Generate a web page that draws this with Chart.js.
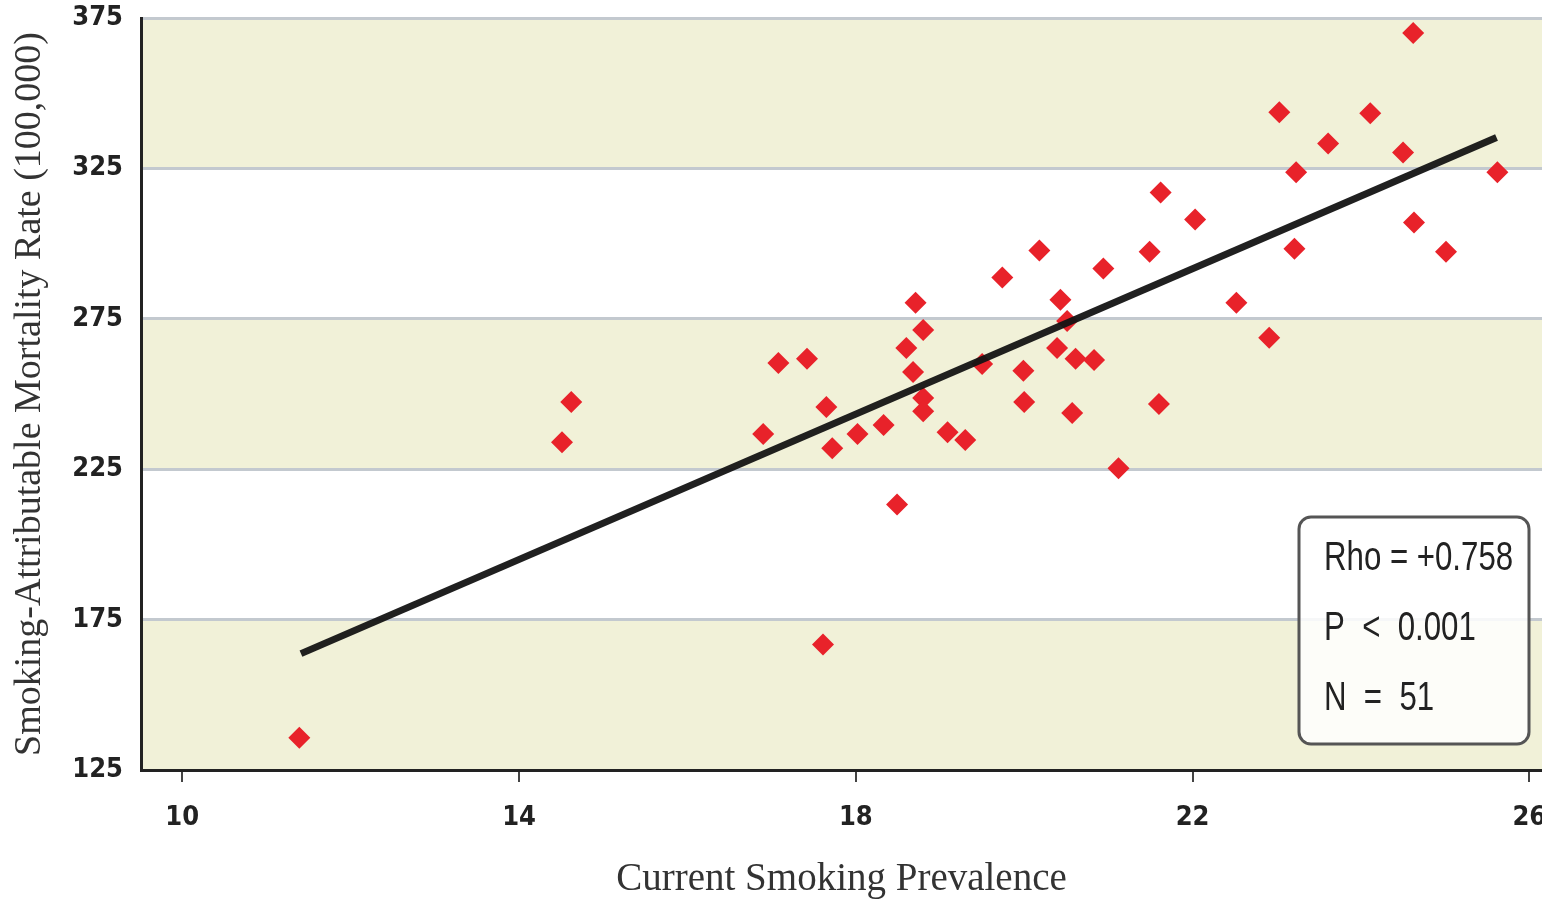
<!DOCTYPE html>
<html>
<head>
<meta charset="utf-8">
<script src="https://cdn.jsdelivr.net/npm/chart.js@4"></script>
<style>
  html, body { margin: 0; padding: 0; background: #fff; }
  #wrap { width: 1542px; height: 899px; }
</style>
</head>
<body>
<div id="wrap"><canvas id="chart" width="1542" height="899"></canvas></div>
<script>
// smoking prevalence (%) vs. smoking-attributable mortality, one point per state
const prevalence = [
  11.39, 14.51, 14.62, 17.61, 20.18, 19.74, 18.71, 20.43, 20.51, 18.80,
  18.60, 20.39, 17.08, 17.42, 19.50, 19.99, 20.61, 20.83, 18.68, 18.80,
  18.80, 17.65, 20.00, 20.57, 21.60, 16.90, 18.02, 18.33, 19.09, 19.30,
  17.72, 21.12, 18.49, 24.62, 23.03, 24.11, 23.61, 24.50, 23.23, 25.62,
  21.62, 22.03, 24.63, 21.49, 23.21, 25.01, 20.94, 22.52, 22.91
];
const mortality = [
  135.7, 234.0, 247.3, 166.7, 297.7, 288.7, 280.3, 281.3, 274.3, 271.3,
  265.3, 265.3, 260.3, 261.7, 260.0, 257.7, 261.7, 261.3, 257.3, 248.7,
  244.3, 245.7, 247.3, 243.7, 246.7, 236.7, 236.7, 239.7, 237.3, 234.7,
  232.0, 225.3, 213.3, 370.0, 343.7, 343.3, 333.3, 330.3, 323.7, 323.7,
  317.0, 308.0, 307.0, 297.3, 298.3, 297.3, 291.7, 280.3, 268.7
];
// fitted line end points
const fitX = [11.41, 25.61];
const fitY = [163.7, 335.3];

const xTicks = [10, 14, 18, 22, 26];
const yTicks = [125, 175, 225, 275, 325, 375];
const shadedBands = [[325, 375], [225, 275], [125, 175]];
const statLines = ['Rho = +0.758', 'P  <  0.001', 'N  =  51'];

const points = prevalence.map((x, i) => ({ x: x, y: mortality[i] }));
const fitLine = fitX.map((x, i) => ({ x: x, y: fitY[i] }));

const tickFont = { family: "'DejaVu Sans Condensed', 'Liberation Sans', sans-serif", size: 27, weight: 'bold' };
const titleFont = { family: "'Liberation Serif', 'DejaVu Serif', serif", size: 38, lineHeight: 1 };

const bandsPlugin = {
  id: 'bands',
  beforeDraw(chart) {
    const { ctx, chartArea, scales } = chart;
    ctx.save();
    ctx.fillStyle = '#f1f1d8';
    shadedBands.forEach(b => {
      const top = scales.y.getPixelForValue(b[1]);
      const bot = scales.y.getPixelForValue(b[0]);
      ctx.fillRect(chartArea.left, top, chartArea.right - chartArea.left, bot - top);
    });
    ctx.restore();
  }
};

const statsBox = {
  id: 'statsBox',
  afterDraw(chart) {
    const { ctx, chartArea } = chart;
    const w = 230, h = 227;
    const x = chartArea.right - w - 13;
    const y = chartArea.bottom - h - 26;
    ctx.save();
    ctx.beginPath();
    ctx.roundRect(x, y, w, h, 12);
    ctx.fillStyle = 'rgba(255,255,255,0.85)';
    ctx.fill();
    ctx.lineWidth = 3;
    ctx.strokeStyle = '#555';
    ctx.stroke();
    ctx.fillStyle = '#222';
    ctx.font = "40px 'Liberation Sans', sans-serif";
    ctx.textBaseline = 'middle';
    statLines.forEach((t, i) => {
      ctx.save();
      ctx.translate(x + 25, y + 42 + i * 70);
      ctx.scale(0.78, 1);
      ctx.fillText(t, 0, 0);
      ctx.restore();
    });
    ctx.restore();
  }
};

new Chart(document.getElementById('chart').getContext('2d'), {
  type: 'scatter',
  data: {
    datasets: [
      {
        type: 'line',
        label: 'fit',
        data: fitLine,
        borderColor: 'rgba(20,20,20,0.95)',
        borderWidth: 7,
        borderCapStyle: 'butt',
        pointRadius: 0,
        fill: false
      },
      {
        label: 'states',
        data: points,
        pointStyle: 'rectRot',
        pointRadius: 11,
        backgroundColor: '#e8222a',
        borderColor: '#e8222a',
        borderWidth: 0
      }
    ]
  },
  options: {
    responsive: false,
    animation: false,
    devicePixelRatio: 1,
    layout: { autoPadding: false, padding: { top: 18, right: 0, left: 0, bottom: 0 } },
    plugins: { legend: { display: false }, tooltip: { enabled: false } },
    scales: {
      x: {
        type: 'linear',
        min: 9.51,
        max: 26.15,
        afterBuildTicks: (s) => { s.ticks = xTicks.map(v => ({ value: v })); },
        afterFit: (s) => { s.height = 129; s.paddingLeft = 0; s.paddingRight = 0; },
        grid: { drawOnChartArea: false, drawTicks: true, tickLength: 12, color: '#444', lineWidth: 2 },
        border: { display: true, color: '#222', width: 3 },
        ticks: { color: '#222', font: tickFont, padding: 20 },
        title: { display: true, text: 'Current Smoking Prevalence', color: '#333', font: Object.assign({}, titleFont, { size: 39 }), padding: { top: 0, bottom: 0 } }
      },
      y: {
        min: 125,
        max: 375,
        afterBuildTicks: (s) => { s.ticks = yTicks.map(v => ({ value: v })); },
        afterFit: (s) => { s.width = 141; s.paddingTop = 0; s.paddingBottom = 0; },
        grid: { drawOnChartArea: true, drawTicks: false, color: '#c3c9cf', lineWidth: 3 },
        border: { display: true, color: '#222', width: 3 },
        ticks: { color: '#222', font: tickFont, padding: 18 },
        title: { display: true, text: 'Smoking-Attributable Mortality Rate (100,000)', color: '#333', font: titleFont, padding: { top: 11, bottom: 0 } }
      }
    }
  },
  plugins: [bandsPlugin, statsBox]
});
</script>
</body>
</html>
